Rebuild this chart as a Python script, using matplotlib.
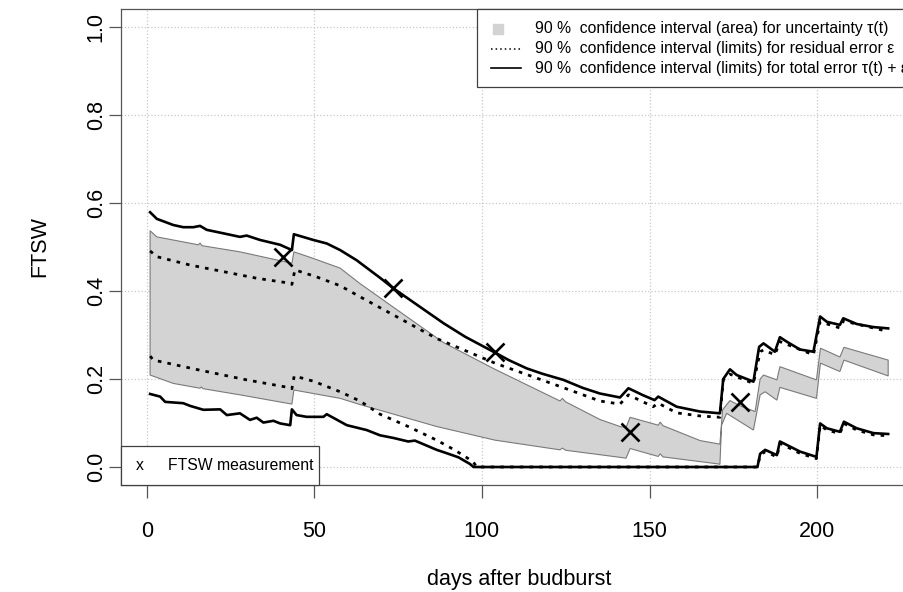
import matplotlib
matplotlib.use("Agg")
import matplotlib.pyplot as plt
from matplotlib.lines import Line2D
from matplotlib.patches import Rectangle
import numpy as np

plt.rcParams["font.family"] = ["Liberation Sans", "DejaVu Sans"]

# upper limit, total error
tot_up_x = [1, 3, 7.9, 10.9, 13.9, 15.9, 17.9, 22.9, 27.8, 29.8, 33.8, 39.8, 43.3, 43.9,
            49.7, 53.7, 57.7, 62.6, 69.6, 73.6, 80, 88.5, 95, 103.9, 108, 113.4, 118,
            124.3, 130, 135.2, 141.2, 143.7, 148.1, 151.5, 152.6, 158.1, 165.1, 171.0,
            172.0, 174.0, 176.0, 181.0, 182.7, 184.0, 187.4, 188.9, 190.9, 194.9, 198.9,
            200.9, 202.9, 206.8, 207.8, 211.8, 216.8, 221.2]
tot_up_y = [0.579, 0.564, 0.550, 0.545, 0.545, 0.548, 0.539, 0.531, 0.523, 0.526, 0.516,
            0.505, 0.493, 0.529, 0.516, 0.508, 0.493, 0.470, 0.430, 0.406, 0.372, 0.327,
            0.296, 0.260, 0.243, 0.224, 0.212, 0.198, 0.180, 0.167, 0.158, 0.179, 0.163,
            0.152, 0.160, 0.137, 0.126, 0.122, 0.200, 0.222, 0.209, 0.194, 0.273, 0.281,
            0.262, 0.295, 0.285, 0.267, 0.262, 0.342, 0.330, 0.323, 0.338, 0.325, 0.318,
            0.315]

# uncertainty band (area)
sh_up_x = [1, 3, 15.4, 15.9, 16.5, 27.8, 43.3, 43.9, 49.7, 57.7, 63.6, 73.6, 88.5, 103.9,
           123.3, 124.0, 125.0, 135.2, 141.2, 143.0, 144.2, 152.6, 153.2, 154.0, 165.1,
           171.0, 171.8, 174.0, 177.0, 181.5, 183.0, 184.0, 188.0, 188.9, 199.8, 201.0,
           206.8, 208.0, 221.2]
sh_up_y = [0.537, 0.523, 0.505, 0.509, 0.503, 0.489, 0.463, 0.489, 0.474, 0.452, 0.417,
           0.363, 0.283, 0.222, 0.150, 0.156, 0.148, 0.108, 0.092, 0.090, 0.113, 0.095,
           0.102, 0.094, 0.060, 0.052, 0.130, 0.151, 0.139, 0.126, 0.200, 0.209, 0.198,
           0.228, 0.198, 0.270, 0.250, 0.272, 0.243]
sh_lo_x = [1, 7.9, 15.9, 16.3, 16.8, 27.8, 43.3, 43.9, 49.7, 57.7, 63.6, 86.5, 103.9,
           123.3, 124.0, 125.0, 141.2, 143.0, 144.2, 152.6, 153.2, 154.0, 170.5, 171.0,
           171.5, 173.0, 181.0, 183.0, 184.5, 188.0, 188.9, 199.8, 201.0, 206.8, 208.0,
           221.2]
sh_lo_y = [0.209, 0.190, 0.179, 0.182, 0.178, 0.164, 0.143, 0.175, 0.167, 0.156, 0.142,
           0.092, 0.061, 0.039, 0.043, 0.038, 0.022, 0.020, 0.042, 0.024, 0.030, 0.023,
           0.007, 0.006, 0.095, 0.122, 0.084, 0.164, 0.171, 0.152, 0.181, 0.156, 0.236,
           0.217, 0.243, 0.207]

# residual error limits
res_up_x = [1, 3, 12.9, 22.9, 32.8, 42.5, 43.3, 44.2, 50.7, 57.7, 63.6, 86.5, 103.9,
            123.3, 135.2, 141.2, 143.7, 151.1, 152.6, 158.1, 165.1, 171.0, 172.0, 174.0,
            181.0, 183.0, 184.0, 187.4, 188.9, 198.9, 200.9, 206.8, 207.8, 221.2]
res_up_y = [0.491, 0.478, 0.459, 0.444, 0.429, 0.418, 0.415, 0.448, 0.432, 0.412, 0.387,
            0.292, 0.236, 0.183, 0.150, 0.143, 0.164, 0.137, 0.145, 0.123, 0.116, 0.113,
            0.198, 0.211, 0.190, 0.262, 0.266, 0.255, 0.285, 0.255, 0.330, 0.316, 0.332,
            0.308]
res_lo_x = [1, 2, 15.9, 29.8, 42.8, 43.3, 44.0, 49.7, 57.7, 63.6, 69.6, 78, 86.5, 92,
            97.4, 98.4, 182.2, 183.0, 184.5, 188.0, 188.9, 194.9, 199.8, 200.9, 202.9,
            206.8, 208.0, 211.8, 216.8, 221.2]
res_lo_y = [0.252, 0.243, 0.220, 0.198, 0.180, 0.178, 0.207, 0.195, 0.171, 0.150, 0.120,
            0.092, 0.061, 0.038, 0.012, 0.0, 0.0, 0.026, 0.035, 0.023, 0.054, 0.031,
            0.019, 0.095, 0.084, 0.076, 0.099, 0.084, 0.073, 0.071]

# lower limit, total error
tot_lo_x = [1, 4, 5.5, 10.9, 12.9, 16.9, 21.9, 23.9, 27.8, 30.8, 32.8, 34.8, 37.8, 39.8,
            42.8, 43.3, 44.7, 47.7, 52.7, 53.7, 59.7, 65.6, 69.6, 73.6, 78, 80, 86.5, 90,
            93, 96.4, 97.5, 182.2, 183.0, 184.5, 188.0, 188.9, 194.9, 199.8, 200.9,
            202.9, 206.8, 208.0, 211.8, 216.8, 221.2]
tot_lo_y = [0.166, 0.160, 0.148, 0.145, 0.139, 0.130, 0.131, 0.118, 0.122, 0.107, 0.112,
            0.101, 0.105, 0.099, 0.095, 0.131, 0.118, 0.114, 0.114, 0.120, 0.095, 0.084,
            0.072, 0.066, 0.058, 0.060, 0.039, 0.030, 0.022, 0.007, 0.0, 0.0, 0.030,
            0.039, 0.027, 0.058, 0.035, 0.023, 0.099, 0.088, 0.080, 0.103, 0.088, 0.077,
            0.075]

# FTSW measurements
meas_x = [40.8, 73.6, 103.9, 144.2, 177.0]
meas_y = [0.478, 0.406, 0.262, 0.080, 0.148]

x_ticks = [0, 50, 100, 150, 200]
y_ticks = [0.0, 0.2, 0.4, 0.6, 0.8, 1.0]

legend_labels = [
    "90 %  confidence interval (area) for uncertainty τ(t)",
    "90 %  confidence interval (limits) for residual error ε",
    "90 %  confidence interval (limits) for total error τ(t) + ε",
]

W, H = 904, 592


def fx(px):
    return px / W


def fy(py):
    return 1 - py / H


fig = plt.figure(figsize=(W / 100, H / 100), dpi=100)
# plot region runs past the right edge of the image, like the reference
L, R, T, B = 120.6, 917.0, 9.4, 484.6
ax = fig.add_axes([fx(L), fy(B), (R - L) / W, (B - T) / H])
ax.set_xlim(-7.8, 229.8)
ax.set_ylim(-0.04, 1.04)

for v in x_ticks:
    ax.axvline(v, color="#c8c8c8", lw=0.9, ls=":", zorder=0)
for v in y_ticks:
    ax.axhline(v, color="#c8c8c8", lw=0.9, ls=":", zorder=0)

poly_x = np.concatenate([sh_up_x, sh_lo_x[::-1]])
poly_y = np.concatenate([sh_up_y, sh_lo_y[::-1]])
ax.fill(poly_x, poly_y, facecolor="#d3d3d3", edgecolor="#7a7a7a", lw=0.8, zorder=1)

dots = (0, (1.3, 2.2))
ax.plot(res_up_x, res_up_y, color="black", lw=2.0, ls=dots, zorder=2)
ax.plot(res_lo_x, res_lo_y, color="black", lw=2.0, ls=dots, zorder=2)
ax.plot(tot_up_x, tot_up_y, color="black", lw=1.9, zorder=3)
ax.plot(tot_lo_x, tot_lo_y, color="black", lw=1.9, zorder=3)
ax.plot(meas_x, meas_y, ls="none", marker="x", color="black", ms=12.5, mew=1.9, zorder=4)

ax.set_xticks(x_ticks)
ax.set_xticklabels([str(v) for v in x_ticks])
ax.set_yticks(y_ticks)
ax.set_yticklabels([f"{v:.1f}" for v in y_ticks], rotation=90, va="center")
ax.tick_params(axis="both", direction="out", length=9, width=0.9, color="#555555",
               labelsize=15.5)
ax.tick_params(axis="x", pad=17)
ax.tick_params(axis="y", pad=1)
for s in ax.spines.values():
    s.set_color("#555555")
    s.set_linewidth(0.9)

fig.text(fx(519), fy(580), "days after budburst", ha="center", va="center",
         fontsize=15.5)
fig.text(fx(40), fy(247), "FTSW", ha="center", va="center", rotation=90,
         fontsize=15.5)

# top-right key (drawn by hand to follow the R legend layout)
fig.add_artist(Rectangle((fx(477), fy(87.4)), (917 - 477) / W, 78 / H,
                         transform=fig.transFigure, facecolor="white",
                         edgecolor="#404040", lw=0.9, zorder=6))
rows = [29, 48.5, 68]
fig.add_artist(Line2D([fx(498)], [fy(rows[0])], transform=fig.transFigure, ls="none",
                      marker="s", ms=7.2, color="#d3d3d3", zorder=7))
fig.add_artist(Line2D([fx(491), fx(521)], [fy(rows[1])] * 2, transform=fig.transFigure,
                      color="black", lw=1.1, ls=(0, (1, 2)), zorder=7))
fig.add_artist(Line2D([fx(491), fx(521)], [fy(rows[2])] * 2, transform=fig.transFigure,
                      color="black", lw=1.2, zorder=7))
for r, lab in zip(rows, legend_labels):
    fig.text(fx(535), fy(r), lab, ha="left", va="center", fontsize=11.3, zorder=7)

# measurement key, lower left
fig.add_artist(Rectangle((fx(L), fy(B)), (319 - L) / W, (B - 445.7) / H,
                         transform=fig.transFigure, facecolor="white",
                         edgecolor="#404040", lw=0.9, zorder=6))
fig.text(fx(139.3), fy(465), "x", ha="center", va="center", fontsize=11.3, zorder=7)
fig.text(fx(168.3), fy(465), "FTSW measurement", ha="left", va="center",
         fontsize=11.3, zorder=7)

fig.savefig("out.png", dpi=100)
